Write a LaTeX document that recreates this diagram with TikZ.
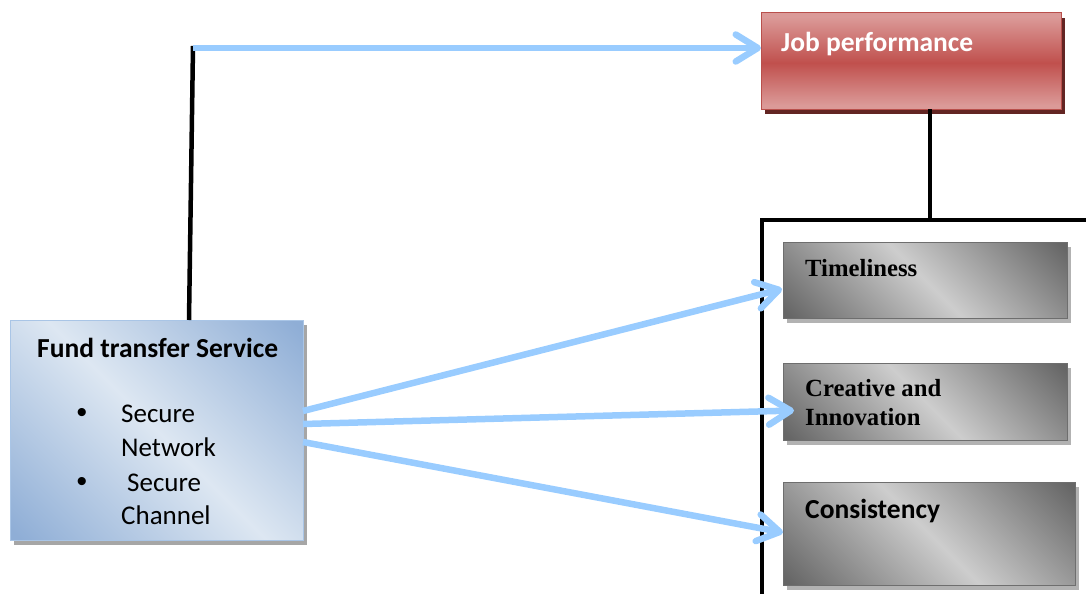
\documentclass[tikz,border=0pt]{standalone}
\usepackage{fontspec}
\setmainfont{Carlito}
\newfontfamily\serifbold{Liberation Serif}
\newfontfamily\bulletfont{Liberation Sans}
\usetikzlibrary{arrows.meta,shadows,calc}

\definecolor{flowblue}{HTML}{99CCFF}
\definecolor{rlight}{HTML}{DB9A98}
\definecolor{rmid}{HTML}{C0504D}
\definecolor{rborder}{HTML}{B9504C}
\definecolor{rshadow}{HTML}{632523}
\definecolor{gdark}{HTML}{666666}
\definecolor{glight}{HTML}{CDCDCD}
\definecolor{gborder}{HTML}{6E6E6E}
\definecolor{bdark}{HTML}{8FAED6}
\definecolor{blight}{HTML}{DDE7F2}
\definecolor{bborder}{HTML}{A9C5E6}

\pgfdeclarehorizontalshading{greyband}{100bp}{color(0bp)=(gdark); color(16bp)=(gdark); color(50bp)=(glight); color(84bp)=(gdark); color(100bp)=(gdark)}
\pgfdeclarehorizontalshading{blueband}{100bp}{color(0bp)=(bdark); color(16bp)=(bdark); color(50bp)=(blight); color(84bp)=(bdark); color(100bp)=(bdark)}
\pgfdeclareverticalshading{redband}{100bp}{color(0bp)=(rlight); color(27bp)=(rlight); color(49bp)=(rmid); color(73bp)=(rlight); color(100bp)=(rlight)}

\tikzset{
  box/.style={rectangle, anchor=north west, inner sep=0pt, outer sep=0pt, line width=1pt},
  redbox/.style={box, draw=rborder, shading=redband,
    drop shadow={shadow xshift=4pt, shadow yshift=-5pt, fill=rshadow, opacity=1}},
  greybox/.style={box, draw=gborder, shading=greyband, shading angle=45,
    drop shadow={shadow xshift=4pt, shadow yshift=-5pt, fill=black!30, opacity=1}},
  bluebox/.style={box, draw=bborder, shading=blueband, shading angle=45,
    drop shadow={shadow xshift=4pt, shadow yshift=-5pt, fill=black!35, opacity=1}},
  lbl/.style={anchor=base west, inner sep=0pt},
  sanslbl/.style={lbl, font=\bfseries\fontsize{27.5}{33}\selectfont},
  seriflbl/.style={lbl, font=\serifbold\bfseries\fontsize{24.7}{29}\selectfont},
  itemlbl/.style={lbl, font=\fontsize{27}{34}\selectfont},
  bulletmark/.style={anchor=base, inner sep=0pt, font=\bulletfont\fontsize{30}{34}\selectfont},
  blackline/.style={draw=black, line width=4.5pt},
  flow/.style={draw=flowblue, line width=6.5pt,
    -{Straight Barb[length=22pt, width=27pt, round]}}
}

\begin{document}
\begin{tikzpicture}[x=1pt, y=-1pt]
\useasboundingbox (0,0) rectangle (1086,594);

% boxes
\node[redbox, minimum width=300pt, minimum height=96pt] (jp) at (761,13) {};
\node[bluebox, minimum width=293pt, minimum height=220pt] (fund) at (10,320) {};
\node[greybox, minimum width=284pt, minimum height=76pt] (tm) at (783,242) {};
\node[greybox, minimum width=284pt, minimum height=77pt] (cr) at (783,363) {};
\node[greybox, minimum width=292pt, minimum height=103pt] (cs) at (783,482) {};

% labels
\node[sanslbl, text=white] (jptext) at (781,52) {Job performance};
\node[sanslbl] (fundtext) at (37,357) {Fund transfer Service};
\node[bulletmark] (b1) at (82,422) {•};
\node[bulletmark] (b2) at (82,491) {•};
\node[itemlbl] (i1) at (121,422) {Secure};
\node[itemlbl] (i2) at (121,456) {Network};
\node[itemlbl] (i3) at (121,491) {\hspace{6pt}Secure};
\node[itemlbl] (i4) at (121,524) {Channel};
\node[seriflbl] (tmtext) at (805,276) {Timeliness};
\node[seriflbl] (crtext1) at (805,396) {Creative and};
\node[seriflbl] (crtext2) at (805,425) {Innovation};
\node[sanslbl] (cstext) at (805,518) {Consistency};

% black connectors
\coordinate (corner) at (193,48);
\coordinate (jt) at (930,220);
\coordinate (bl) at (762,220);
\coordinate (br) at (1086,220);
\coordinate (bb) at (762,594);
\draw[blackline] ($(fund.north west)+(179,0)$) -- ($(corner)+(0,-2)$);
\draw[blackline] (jp.south -| jt) -- (jt);
\draw[blackline] (br) -- (bl) -- (bb);

% blue arrows
\draw[flow] (corner) -- (jp.west |- corner);
\draw[flow] ($(fund.east)+(0,-19)$) -- ($(tm.west)+(-1,9)$);
\draw[flow] ($(fund.east)+(0,-6)$) -- ($(cr.west)+(11,9)$);
\draw[flow] ($(fund.east)+(0,12)$) -- ($(cs.west)+(0,-1)$);
\end{tikzpicture}
\end{document}
